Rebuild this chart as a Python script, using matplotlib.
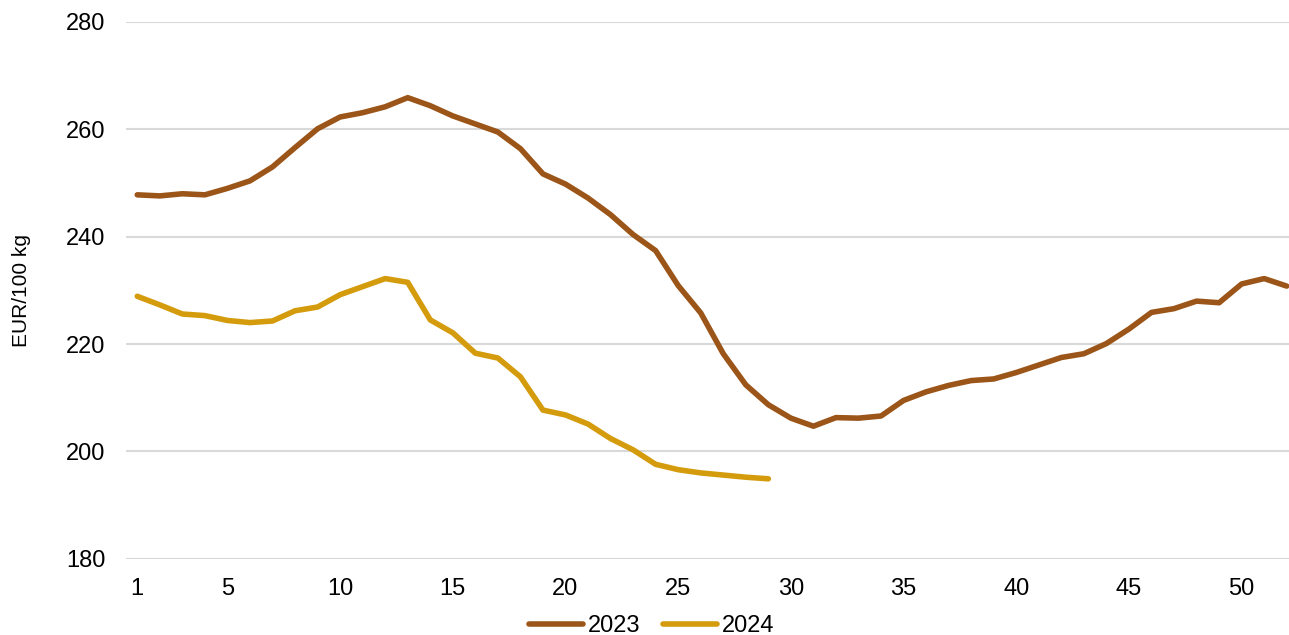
import numpy as np
import matplotlib
matplotlib.use("Agg")
import matplotlib.pyplot as plt

plt.rcParams['font.family'] = ['Liberation Sans', 'DejaVu Sans']

weeks_2023 = list(range(1, 53))
prices_2023 = [247.8, 247.6, 248.0, 247.8, 249.0, 250.4, 253.0, 256.6, 260.1, 262.3,
               263.1, 264.2, 265.9, 264.4, 262.5, 261.0, 259.5, 256.4, 251.7, 249.8,
               247.2, 244.1, 240.4, 237.4, 230.9, 225.8, 218.2, 212.4, 208.7, 206.2,
               204.7, 206.3, 206.2, 206.6, 209.5, 211.1, 212.3, 213.2, 213.5, 214.7,
               216.1, 217.5, 218.2, 220.1, 222.8, 225.9, 226.6, 228.0, 227.7, 231.2,
               232.2, 230.8]

weeks_2024 = list(range(1, 30))
prices_2024 = [228.9, 227.3, 225.6, 225.3, 224.4, 224.0, 224.3, 226.2, 226.9, 229.2,
               230.7, 232.2, 231.5, 224.5, 222.1, 218.3, 217.4, 213.9, 207.7, 206.8,
               205.1, 202.4, 200.3, 197.6, 196.6, 196.0, 195.6, 195.2, 194.9]

xticks = [1, 5, 10, 15, 20, 25, 30, 35, 40, 45, 50]
yticks = [180, 200, 220, 240, 260, 280]

fig = plt.figure(figsize=(12.89, 6.35), dpi=100)
# plot area runs a little past the right edge of the picture
ax = fig.add_axes([126 / 1289, 0.12, 1172 / 1289, 0.8454])

ax.plot(weeks_2023, prices_2023, color='#9C5518', lw=4, label='2023',
        solid_capstyle='round', solid_joinstyle='round')
ax.plot(weeks_2024, prices_2024, color='#D49B0C', lw=4, label='2024',
        solid_capstyle='round', solid_joinstyle='round')

ax.set_xlim(0.5, 52.5)
ax.set_ylim(180, 280)
ax.set_xticks(xticks)
ax.set_yticks(yticks)
ax.yaxis.grid(True, color='#D9D9D9', lw=1.5)
ax.set_axisbelow(True)
for s in ax.spines.values():
    s.set_visible(False)
ax.tick_params(axis='both', length=0, labelsize=17)
ax.tick_params(axis='x', pad=14)
ax.tick_params(axis='y', pad=15)

fig.text(22 / 1289, 1 - 290.5 / 635, 'EUR/100 kg', rotation=90, fontsize=15,
         ha='center', va='center')

fig.legend(loc='center', bbox_to_anchor=(0.5054, 0.014), ncol=2, frameon=False,
           fontsize=17, handlelength=2.3, handletextpad=0.2, columnspacing=0.95,
           borderpad=0)

fig.savefig('out.png', dpi=100)
